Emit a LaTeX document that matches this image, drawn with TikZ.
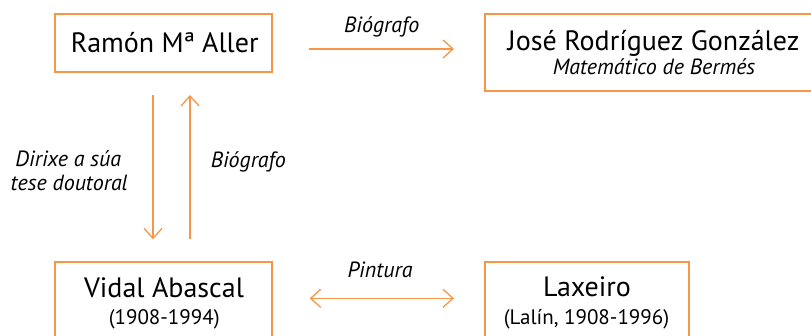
\documentclass[tikz,border=0pt]{standalone}
\usepackage{fontspec}
\setmainfont{PT Sans}
\usetikzlibrary{arrows.meta}
\definecolor{org}{HTML}{F79646}
\begin{document}
\begin{tikzpicture}[x=1pt,y=-1pt,
  box/.style={draw=org, line width=1.4pt, rectangle, inner sep=0pt},
  tip/.style={Straight Barb[length=10pt,width=18pt,line width=1.3pt]},
  conn/.style={draw=org, line width=1.3pt, -{Straight Barb[length=10pt,width=18pt,line width=1.3pt]}},
  biconn/.style={draw=org, line width=1.3pt, {Straight Barb[length=10pt,width=18pt,line width=1.3pt]}-{Straight Barb[length=10pt,width=18pt,line width=1.3pt]}},
  lbl/.style={font=\fontsize{22}{25}\selectfont\itshape, inner sep=0pt, anchor=base},
  maintxt/.style={font=\fontsize{28}{32}\selectfont, inner sep=0pt, anchor=base},
  subtxt/.style={font=\fontsize{21}{25}\selectfont, inner sep=0pt, anchor=base}]
\useasboundingbox (0,0) rectangle (811,335);
\fill[white] (0,0) rectangle (811,335);
% boxes
\node[box, minimum width=217pt, minimum height=58pt] (ramon) at (163.3,43) {};
\node[box, minimum width=336pt, minimum height=77pt] (jose) at (653,52.3) {};
\node[box, minimum width=217pt, minimum height=88pt] (vidal) at (163.3,306) {};
\node[box, minimum width=204pt, minimum height=88pt] (laxeiro) at (587,306) {};
% texts
\node[maintxt] (ramonT) at (164.8,52) {Ramón Mª Aller};
\node[maintxt] (joseT) at (653.5,50.7) {José Rodríguez González};
\node[subtxt, font=\fontsize{22}{25}\selectfont\itshape] (joseS) at (654,74) {Matemático de Bermés};
\node[maintxt] (vidalT) at (164,297.7) {Vidal Abascal};
\node[subtxt] (vidalS) at (164.2,324) {(1908-1994)};
\node[maintxt] (laxT) at (587,296.7) {Laxeiro};
\node[subtxt] (laxS) at (586.5,324) {(Lalín, 1908-1996)};
% connector end points
\coordinate (a1) at (309.3,49);
\coordinate (a2) at (454,49);
\coordinate (b1) at (309.7,298.3);
\coordinate (b2) at (454,298.3);
\coordinate (c1) at (153,95);
\coordinate (c2) at (153,239.3);
\coordinate (d1) at (190,239.3);
\coordinate (d2) at (190,95);
\draw[conn] (a1) -- (a2);
\draw[biconn] (b1) -- (b2);
\draw[conn] (c1) -- (c2);
\draw[conn] (d1) -- (d2);
% labels
\node[lbl] (l1) at (381.7,32.3) {Biógrafo};
\node[lbl] (l2) at (380,277) {Pintura};
\node[lbl] (l3) at (248.3,167.3) {Biógrafo};
\node[lbl] (l4) at (68.3,166.7) {Dirixe a súa};
\node[lbl] (l5) at (69.2,190) {tese doutoral};
\end{tikzpicture}
\end{document}
